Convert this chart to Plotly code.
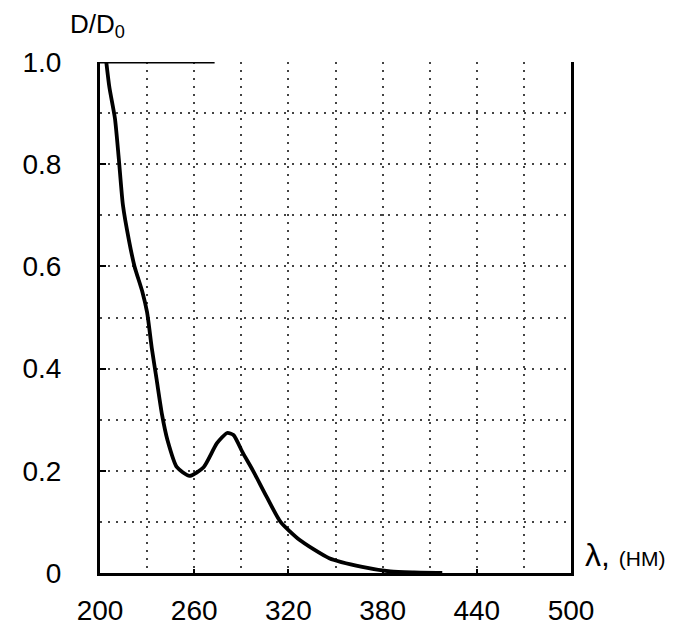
import plotly.graph_objects as go

# Spectrum
wavelength_nm = [204, 206, 209.5, 212, 214.6, 218.5, 222, 227, 230, 233, 236, 239.5,
                 243, 249, 257, 266, 274.5, 281, 285, 291, 297.5, 306, 315, 327,
                 346, 367, 385, 400, 418]
d_ratio = [1.0, 0.95, 0.89, 0.81, 0.72, 0.65, 0.60, 0.55, 0.51, 0.44, 0.38, 0.31,
           0.26, 0.207, 0.19, 0.207, 0.254, 0.274, 0.27, 0.235, 0.20, 0.15, 0.10, 0.065,
           0.029, 0.012, 0.003, 0.001, 0.0]

x_ticks = [200, 260, 320, 380, 440, 500]
y_ticks = [0, 0.2, 0.4, 0.6, 0.8, 1.0]
y_tick_text = ["0", "0.2", "0.4", "0.6", "0.8", "1.0"]

FONT = "Liberation Sans, Arial, sans-serif"
GRID = dict(color="#444444", width=1.6, dash="2px,6px")

fig = go.Figure()
fig.add_trace(go.Scatter(
    x=wavelength_nm, y=d_ratio, mode="lines",
    line=dict(color="black", width=3.8, shape="spline", smoothing=0.6),
    showlegend=False, hoverinfo="skip",
))

# solid segment of the top frame line
fig.add_shape(type="line", xref="x", yref="y", x0=200, x1=273, y0=1.0, y1=1.0,
              line=dict(color="black", width=3))

fig.update_xaxes(
    range=[200, 500], tickvals=x_ticks, ticktext=[str(v) for v in x_ticks],
    showline=True, linecolor="black", linewidth=3, mirror=False,
    ticks="inside", ticklen=4, tickcolor="black", tickwidth=2,
    tickfont=dict(family=FONT, size=28, color="black"),
    ticklabelstandoff=10,
    showgrid=True, gridcolor=GRID["color"], gridwidth=GRID["width"], griddash=GRID["dash"],
    minor=dict(dtick=30, tick0=200, showgrid=True, gridcolor=GRID["color"],
               gridwidth=GRID["width"], griddash=GRID["dash"], ticks=""),
    zeroline=False,
)
fig.update_yaxes(
    range=[0, 1.0], tickvals=y_ticks, ticktext=y_tick_text,
    showline=True, linecolor="black", linewidth=3, mirror=True,
    ticks="inside", ticklen=6, tickcolor="black", tickwidth=2,
    tickfont=dict(family=FONT, size=28, color="black"),
    ticklabelstandoff=30,
    showgrid=True, gridcolor=GRID["color"], gridwidth=GRID["width"], griddash=GRID["dash"],
    minor=dict(dtick=0.1, tick0=0, showgrid=True, gridcolor=GRID["color"],
               gridwidth=GRID["width"], griddash=GRID["dash"], ticks=""),
    zeroline=False,
)

fig.add_annotation(
    text="D/D<sub>0</sub>", xref="paper", yref="paper", x=-0.068, y=1.0,
    xanchor="left", yanchor="bottom", yshift=18, showarrow=False,
    font=dict(family=FONT, size=26, color="black"),
)
fig.add_annotation(
    text="λ, <span style='font-size:21px'>(НМ)</span>", xref="paper", yref="paper",
    x=1.0, y=0.0, xanchor="left", yanchor="bottom", xshift=12, yshift=-2,
    showarrow=False, font=dict(family=FONT, size=32, color="black"),
)

fig.update_layout(
    width=692, height=629,
    margin=dict(l=92, r=129, t=54, b=64),
    paper_bgcolor="white", plot_bgcolor="white",
)

fig.write_html("out.html")
